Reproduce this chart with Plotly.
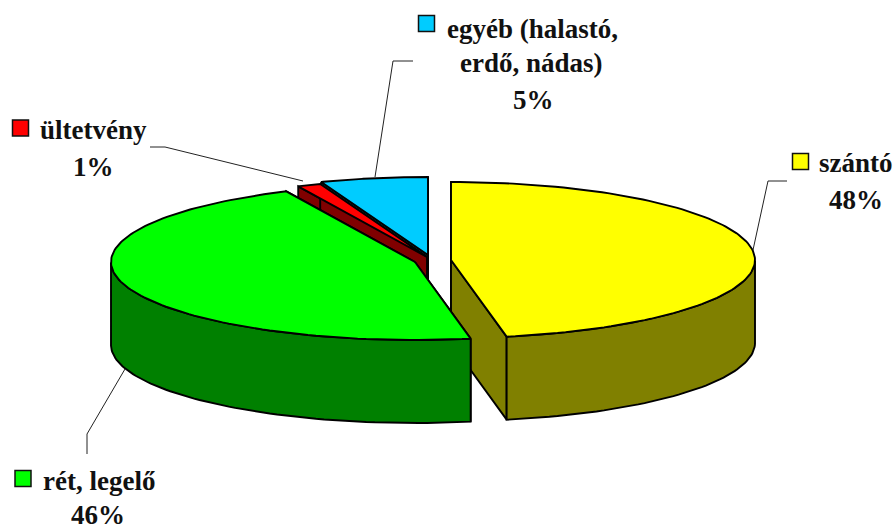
import numpy as np
import plotly.graph_objects as go

# ---- data ----
categories = ["szántó", "rét, legelő", "ültetvény", "egyéb (halastó, erdő, nádas)"]
shares = [47.5, 46.49, 1.1, 4.91]
pct_labels = ["48%", "46%", "1%", "5%"]
label_lines = [["szántó", "48%"], ["rét, legelő", "46%"], ["ültetvény", "1%"],
               ["egyéb (halastó,", "erdő, nádas)", "5%"]]
top_colors = ["#FFFF00", "#00FF00", "#FF0000", "#00CCFF"]
side_colors = ["#808000", "#008000", "#800000", "#006680"]

# ---- pie layout (pixels on a 895x529 canvas) ----
W, H = 895, 529
RX, RY, DEPTH = 304, 78, 83
WARP = 5.0
centers = [(451, 260), (415, 262), (427, 257), (428, 255)]
FONT = dict(family="Liberation Serif", size=27, color="#111111")
ink = "#000000"

keys = [(800.5, 161.5), (23, 478.5), (20.5, 128), (426.5, 23.5)]
text_pos = [
    [(856, 163), (856, 200)],
    [(99, 481), (98, 515)],
    [(93, 130), (93, 167)],
    [(532, 29), (531, 63), (533, 100)],
]
leaders = [
    [(753, 250), (768, 181), (787, 181)],
    [(125, 369), (87, 434), (87, 454)],
    [(303, 181), (165, 147), (150, 147)],
    [(375, 177), (393, 61), (413, 61)],
]

edges = np.concatenate([[0], np.cumsum(shares)]) / np.sum(shares) * 360.0


def warp(t):
    return t + WARP * np.sin(np.radians(2 * t))


def rim(center, t, dy=0.0):
    t = warp(np.asarray(t, dtype=float))
    x = center[0] + RX * np.sin(np.radians(t))
    y = center[1] - RY * np.cos(np.radians(t)) + dy
    return x, y


def poly(fig, xs, ys, fill, width=1.9):
    fig.add_trace(go.Scatter(
        x=list(xs), y=list(ys), mode="lines", fill="toself", fillcolor=fill,
        line=dict(color=ink, width=width), hoverinfo="skip", showlegend=False))


fig = go.Figure()


def draw_slice(i):
    c = centers[i]
    a, b = edges[i], edges[i + 1]
    ts = np.linspace(a, b, 120)
    x, y = rim(c, ts)
    # cut faces (drawn first), from apex to each rim end
    for t_end in (a, b):
        ex, ey = rim(c, [t_end])
        poly(fig, [c[0], ex[0], ex[0], c[0], c[0]],
             [c[1], ey[0], ey[0] + DEPTH, c[1] + DEPTH, c[1]], side_colors[i])
    # outer wall: only the front half of the rim shows
    warped = warp(ts)
    front = np.cos(np.radians(warped)) <= 0
    if front.any():
        fx, fy = x[front], y[front]
        poly(fig, np.r_[fx, fx[::-1], fx[0]], np.r_[fy, fy[::-1] + DEPTH, fy[0]], side_colors[i])
    # top face
    poly(fig, np.r_[c[0], x, c[0]], np.r_[c[1], y, c[1]], top_colors[i])


for i in (0, 3, 2, 1):
    draw_slice(i)

for pts in leaders:
    fig.add_trace(go.Scatter(
        x=[p[0] for p in pts], y=[p[1] for p in pts], mode="lines",
        line=dict(color="#222222", width=1), hoverinfo="skip", showlegend=False))

fig.add_trace(go.Scatter(
    x=[k[0] for k in keys], y=[k[1] for k in keys], mode="markers",
    marker=dict(symbol="square", size=16, color=top_colors, line=dict(color="#111111", width=1.5)),
    hoverinfo="skip", showlegend=False))

for lines, poss in zip(label_lines, text_pos):
    for s, (px, py) in zip(lines, poss):
        extra = dict(height=26) if s == "46%" else {}
        fig.add_annotation(x=px, y=py, text=f"<b>{s}</b>", showarrow=False, font=FONT,
                           xanchor="center", yanchor="middle", **extra)

fig.update_layout(
    width=W, height=H, margin=dict(l=0, r=0, t=0, b=0),
    paper_bgcolor="white", plot_bgcolor="white", showlegend=False,
    xaxis=dict(range=[0, W], visible=False, fixedrange=True),
    yaxis=dict(range=[H, 0], visible=False, fixedrange=True),
)
fig.write_html("out.html", config={"displayModeBar": False},
               post_script="document.body.style.margin='0';document.body.style.overflow='hidden';")
